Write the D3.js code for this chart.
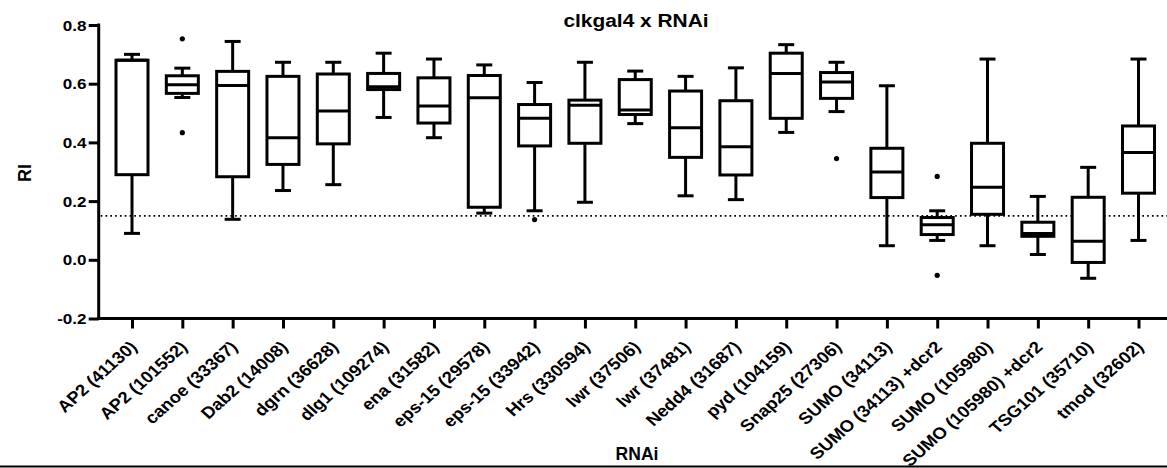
<!DOCTYPE html>
<html>
<head>
<meta charset="utf-8">
<script src="https://cdn.jsdelivr.net/npm/d3@7"></script>
<style>
  html, body { margin: 0; padding: 0; background: #fff; }
  svg { display: block; }
  text { font-family: "Liberation Sans", Arial, sans-serif; font-weight: bold; fill: #000; }
</style>
</head>
<body>
<svg id="chart" width="1167" height="468"></svg>
<script>
const categories = ["AP2 (41130)", "AP2 (101552)", "canoe (33367)", "Dab2 (14008)", "dgrn (36628)",
  "dlg1 (109274)", "ena (31582)", "eps-15 (29578)", "eps-15 (33942)", "Hrs (330594)",
  "lwr (37506)", "lwr (37481)", "Nedd4 (31687)", "pyd (104159)", "Snap25 (27306)",
  "SUMO (34113)", "SUMO (34113) +dcr2", "SUMO (105980)", "SUMO (105980) +dcr2",
  "TSG101 (35710)", "tmod (32602)"];
const whiskerLow  = [0.09, 0.553, 0.138, 0.236, 0.256, 0.485, 0.416, 0.159, 0.167, 0.196, 0.464, 0.218, 0.205, 0.434, 0.505, 0.048, 0.066, 0.048, 0.018, -0.063, 0.066];
const q1          = [0.29, 0.567, 0.283, 0.325, 0.395, 0.58, 0.466, 0.179, 0.388, 0.397, 0.495, 0.349, 0.289, 0.482, 0.55, 0.212, 0.086, 0.155, 0.08, -0.009, 0.227];
const median      = [0.68, 0.596, 0.594, 0.416, 0.507, 0.59, 0.524, 0.552, 0.482, 0.527, 0.51, 0.45, 0.385, 0.635, 0.606, 0.299, 0.119, 0.247, 0.09, 0.063, 0.366];
const q3          = [0.68, 0.627, 0.642, 0.625, 0.633, 0.635, 0.62, 0.628, 0.529, 0.544, 0.614, 0.575, 0.542, 0.704, 0.638, 0.38, 0.144, 0.397, 0.128, 0.213, 0.456];
const whiskerHigh = [0.70, 0.653, 0.744, 0.673, 0.673, 0.704, 0.684, 0.664, 0.604, 0.673, 0.643, 0.625, 0.654, 0.733, 0.673, 0.593, 0.167, 0.684, 0.216, 0.315, 0.684];
const outliers    = [[], [0.753, 0.433], [], [], [], [], [], [], [0.137], [], [], [], [], [], [0.345], [], [0.284, -0.053], [], [], [], []];
const yTicks = [-0.2, 0.0, 0.2, 0.4, 0.6, 0.8];
const yTickLabels = ["-0.2", "0.0", "0.2", "0.4", "0.6", "0.8"];
const thresholdValue = 0.15;
const titleText = "clkgal4 x RNAi";
const xTitle = "RNAi";
const yTitle = "RI";

const svg = d3.select("#chart");
const W = 1167;
const axisX = 98.7, axisY = 318.5;

const x = d3.scalePoint().domain(categories).range([132, 1138.5]);
const y = d3.scaleLinear().domain([-0.2, 0.8]).range([318.5, 25]);

const data = categories.map((c, i) => ({
  c, lo: whiskerLow[i], q1: q1[i], med: median[i], q3: q3[i], hi: whiskerHigh[i], out: outliers[i]
}));

// threshold dotted line
svg.append("line")
  .attr("x1", axisX + 2).attr("x2", W)
  .attr("y1", y(thresholdValue)).attr("y2", y(thresholdValue))
  .attr("stroke", "#000").attr("stroke-width", 1.7)
  .attr("stroke-dasharray", "1.7,3.1");

const boxW = 32, capW = 16, sw = 3;
const g = svg.append("g");
const bx = g.selectAll("g.box").data(data).join("g").attr("class", "box")
  .attr("transform", d => `translate(${x(d.c)},0)`);

bx.append("line").attr("x1", 0).attr("x2", 0)
  .attr("y1", d => y(d.hi)).attr("y2", d => y(d.q3))
  .attr("stroke", "#000").attr("stroke-width", sw);
bx.append("line").attr("x1", 0).attr("x2", 0)
  .attr("y1", d => y(d.q1)).attr("y2", d => y(d.lo))
  .attr("stroke", "#000").attr("stroke-width", sw);
bx.append("line").attr("x1", -capW/2).attr("x2", capW/2)
  .attr("y1", d => y(d.hi)).attr("y2", d => y(d.hi))
  .attr("stroke", "#000").attr("stroke-width", sw);
bx.append("line").attr("x1", -capW/2).attr("x2", capW/2)
  .attr("y1", d => y(d.lo)).attr("y2", d => y(d.lo))
  .attr("stroke", "#000").attr("stroke-width", sw);
bx.append("rect").attr("x", -boxW/2).attr("width", boxW)
  .attr("y", d => y(d.q3)).attr("height", d => y(d.q1) - y(d.q3))
  .attr("fill", "#fff").attr("stroke", "#000").attr("stroke-width", sw);
bx.append("line").attr("x1", -boxW/2).attr("x2", boxW/2)
  .attr("y1", d => y(d.med)).attr("y2", d => y(d.med))
  .attr("stroke", "#000").attr("stroke-width", sw);
bx.selectAll("circle").data(d => d.out).join("circle")
  .attr("cx", 0).attr("cy", v => y(v)).attr("r", 2.6).attr("fill", "#000");

// y axis
const yAxis = d3.axisLeft(y).tickValues(yTicks).tickFormat("").tickSize(10).tickSizeOuter(0);
const ya = svg.append("g").attr("transform", `translate(${axisX},0)`).call(yAxis);
ya.select(".domain").remove();
ya.selectAll(".tick line").attr("stroke", "#000").attr("stroke-width", 3);
svg.append("g").selectAll("text").data(yTicks).join("text")
  .attr("transform", (d) => `translate(86.5,${y(d)}) scale(1.1,1)`)
  .attr("text-anchor", "end").attr("dy", "0.36em").attr("font-size", 15.5)
  .text((d, i) => yTickLabels[i]);
svg.append("line").attr("x1", axisX).attr("x2", axisX).attr("y1", y(0.8) - 1.5).attr("y2", axisY + 1.5)
  .attr("stroke", "#000").attr("stroke-width", 3);

// x axis
const xAxis = d3.axisBottom(x).tickSize(10).tickFormat("").tickSizeOuter(0);
const xa = svg.append("g").attr("transform", `translate(0,${axisY})`).call(xAxis);
xa.select(".domain").remove();
xa.selectAll(".tick line").attr("stroke", "#000").attr("stroke-width", 3);
svg.append("line").attr("x1", axisX - 1.5).attr("x2", W).attr("y1", axisY).attr("y2", axisY)
  .attr("stroke", "#000").attr("stroke-width", 3);

// x labels
svg.append("g").selectAll("text").data(categories).join("text")
  .attr("transform", d => `translate(${x(d) + 6},348) scale(1.12,1) rotate(-45)`)
  .attr("text-anchor", "end")
  .attr("font-size", 16.5)
  .text(d => d);

// titles
svg.append("text").attr("transform", "translate(636,27) scale(1.1,1)").attr("text-anchor", "middle").attr("font-size", 19).text(titleText);
svg.append("text").attr("x", 637).attr("y", 460).attr("text-anchor", "middle").attr("font-size", 17.5).text(xTitle);
svg.append("text").attr("transform", "translate(31,173) rotate(-90)").attr("text-anchor", "middle").attr("font-size", 18).text(yTitle);

// bottom border line
svg.append("line").attr("x1", 0).attr("x2", W).attr("y1", 466.5).attr("y2", 466.5).attr("stroke", "#000").attr("stroke-width", 2);
</script>
</body>
</html>
